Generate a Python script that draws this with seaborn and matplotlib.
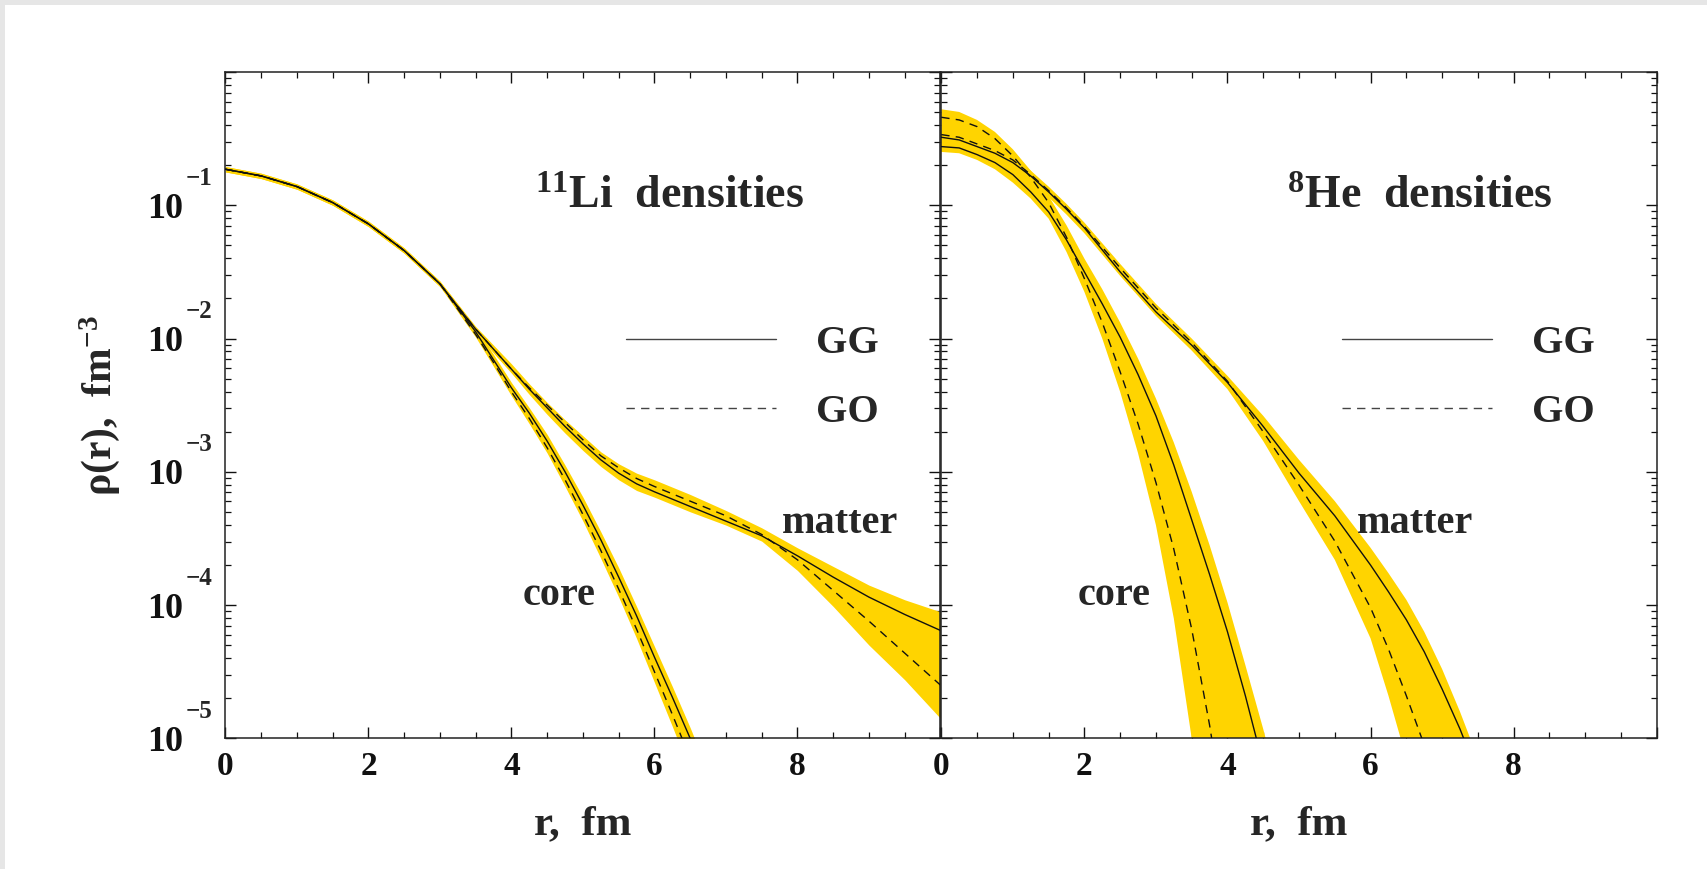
import numpy as np
import pandas as pd
import matplotlib
matplotlib.use("Agg")
import matplotlib.pyplot as plt
import matplotlib.transforms as mtransforms
from matplotlib.ticker import LogLocator, MultipleLocator, FuncFormatter, NullFormatter
from matplotlib.patches import Rectangle
import seaborn as sns

# ---------------- data (log10 of density, fm^-3) ----------------
# 11Li panel
li_matter_r = [0.0, 0.5, 1.0, 1.5, 2.0, 2.5, 3.0, 3.25, 3.5, 3.75, 4.0, 4.25, 4.5, 4.75, 5.0, 5.25, 5.5, 5.75,
               6.0, 6.5, 7.0, 7.5, 8.0, 8.5, 9.0, 9.5, 10.0]
li_matter_gg = [-0.73, -0.78, -0.86, -0.98, -1.14, -1.34, -1.59, -1.76, -1.93, -2.08, -2.23, -2.38, -2.52, -2.66,
                -2.79, -2.91, -3.01, -3.09, -3.15, -3.26, -3.37, -3.48, -3.63, -3.79, -3.94, -4.07, -4.19]
li_matter_go = [-0.73, -0.78, -0.86, -0.98, -1.14, -1.34, -1.59, -1.76, -1.93, -2.08, -2.23, -2.37, -2.50, -2.63,
                -2.76, -2.88, -2.97, -3.05, -3.11, -3.22, -3.33, -3.47, -3.66, -3.89, -4.12, -4.36, -4.60]
li_matter_hi = [-0.71, -0.76, -0.84, -0.96, -1.12, -1.32, -1.57, -1.74, -1.91, -2.05, -2.19, -2.34, -2.48, -2.61,
                -2.73, -2.85, -2.94, -3.01, -3.06, -3.17, -3.29, -3.42, -3.57, -3.71, -3.85, -3.96, -4.05]
li_matter_lo = [-0.75, -0.80, -0.88, -1.00, -1.16, -1.36, -1.61, -1.78, -1.95, -2.11, -2.26, -2.42, -2.57, -2.71,
                -2.84, -2.96, -3.06, -3.14, -3.19, -3.30, -3.40, -3.52, -3.74, -4.01, -4.30, -4.56, -4.85]

li_core_r = [0.0, 0.5, 1.0, 1.5, 2.0, 2.5, 3.0, 3.5, 3.75, 4.0, 4.25, 4.5, 4.75, 5.0, 5.25, 5.5, 5.75, 6.0,
             6.25, 6.5, 6.75, 7.0]
li_core_gg = [-0.73, -0.78, -0.86, -0.98, -1.14, -1.34, -1.59, -1.95, -2.16, -2.37, -2.56, -2.77, -3.00, -3.25,
              -3.51, -3.79, -4.08, -4.39, -4.69, -5.00, -5.32, -5.65]
li_core_go = [-0.73, -0.78, -0.86, -0.98, -1.14, -1.34, -1.59, -1.97, -2.18, -2.40, -2.60, -2.82, -3.06, -3.32,
              -3.59, -3.88, -4.18, -4.50, -4.82, -5.15, -5.50, -5.85]
li_core_hi = [-0.71, -0.76, -0.84, -0.96, -1.12, -1.32, -1.57, -1.92, -2.12, -2.33, -2.52, -2.72, -2.95, -3.19,
              -3.45, -3.72, -4.01, -4.31, -4.61, -4.92, -5.25, -5.60]
li_core_lo = [-0.75, -0.80, -0.88, -1.00, -1.16, -1.36, -1.61, -1.99, -2.21, -2.43, -2.64, -2.86, -3.11, -3.37,
              -3.65, -3.94, -4.25, -4.58, -4.91, -5.25, -5.60, -5.95]

# 8He panel
he_matter_r = [0.0, 0.25, 0.5, 0.75, 1.0, 1.25, 1.5, 1.75, 2.0, 2.5, 3.0, 3.5, 4.0, 4.5, 5.0, 5.5, 6.0, 6.25,
               6.5, 6.75, 7.0, 7.25, 7.5, 8.0]
he_matter_gg = [-0.49, -0.51, -0.56, -0.61, -0.68, -0.78, -0.90, -1.03, -1.17, -1.50, -1.80, -2.05, -2.33, -2.66,
                -3.01, -3.33, -3.70, -3.90, -4.11, -4.35, -4.63, -4.93, -5.27, -6.00]
he_matter_go = [-0.47, -0.49, -0.54, -0.59, -0.66, -0.77, -0.89, -1.02, -1.16, -1.47, -1.77, -2.03, -2.32, -2.70,
                -3.10, -3.52, -4.02, -4.33, -4.68, -5.05, -5.45, -5.85, -6.25, -7.00]
he_matter_hi = [-0.44, -0.46, -0.51, -0.57, -0.64, -0.74, -0.86, -0.99, -1.13, -1.44, -1.74, -2.00, -2.28, -2.58,
                -2.91, -3.22, -3.57, -3.76, -3.96, -4.20, -4.48, -4.80, -5.15, -5.90]
he_matter_lo = [-0.60, -0.60, -0.62, -0.66, -0.72, -0.82, -0.94, -1.07, -1.21, -1.53, -1.83, -2.09, -2.38, -2.77,
                -3.22, -3.66, -4.25, -4.68, -5.15, -5.60, -6.05, -6.50, -6.95, -7.60]

he_core_r = [0.0, 0.25, 0.5, 0.75, 1.0, 1.25, 1.5, 1.75, 2.0, 2.25, 2.5, 2.75, 3.0, 3.25, 3.5, 3.75, 4.0, 4.25,
             4.5, 4.75, 5.0]
he_core_gg = [-0.56, -0.57, -0.62, -0.68, -0.77, -0.90, -1.05, -1.26, -1.50, -1.74, -1.99, -2.27, -2.58, -2.95,
              -3.36, -3.77, -4.20, -4.68, -5.20, -5.72, -6.30]
he_core_go = [-0.34, -0.36, -0.41, -0.50, -0.63, -0.79, -0.98, -1.24, -1.55, -1.88, -2.25, -2.64, -3.08, -3.58,
              -4.18, -4.90, -5.75, -6.50, -7.20, -7.80, -8.40]
he_core_hi = [-0.28, -0.30, -0.36, -0.45, -0.58, -0.74, -0.93, -1.15, -1.40, -1.63, -1.88, -2.15, -2.45, -2.78,
              -3.15, -3.55, -3.98, -4.45, -4.93, -5.45, -6.00]
he_core_lo = [-0.60, -0.61, -0.66, -0.73, -0.83, -0.95, -1.10, -1.35, -1.65, -2.00, -2.40, -2.86, -3.40, -4.10,
              -5.00, -5.90, -6.80, -7.50, -8.00, -8.50, -9.00]

x_ticks = [0, 2, 4, 6, 8, 10]
x_tick_labels = ["0", "2", "4", "6", "8", ""]
y_label_exponents = [-1, -2, -3, -4, -5]

panels = [
    dict(title=r"$^{11}$Li  densities", title_pos=(4.33, -1.02),
         matter=(li_matter_r, li_matter_gg, li_matter_go, li_matter_lo, li_matter_hi),
         core=(li_core_r, li_core_gg, li_core_go, li_core_lo, li_core_hi),
         matter_pos=(7.78, -3.46), core_pos=(4.15, -4.0)),
    dict(title=r"$^{8}$He  densities", title_pos=(4.83, -1.02),
         matter=(he_matter_r, he_matter_gg, he_matter_go, he_matter_lo, he_matter_hi),
         core=(he_core_r, he_core_gg, he_core_go, he_core_lo, he_core_hi),
         matter_pos=(5.81, -3.46), core_pos=(1.91, -4.0)),
]

# ---------------- style ----------------
sns.set_theme(style="ticks")
plt.rcParams["font.family"] = ["Liberation Serif", "DejaVu Serif"]
plt.rcParams["font.weight"] = "bold"
plt.rcParams["mathtext.fontset"] = "custom"
plt.rcParams["mathtext.rm"] = "Liberation Serif:bold"
plt.rcParams["mathtext.it"] = "Liberation Serif:bold"
plt.rcParams["mathtext.bf"] = "Liberation Serif:bold"
plt.rcParams["mathtext.default"] = "rm"
plt.rcParams["axes.unicode_minus"] = True

BAND = "#FFD400"
LINE = "#111111"
DASH = (0, (6, 4.5))

fig = plt.figure(figsize=(17.08, 8.69), dpi=100, facecolor="white")
fig.add_artist(Rectangle((0, 0), 5 / 1708, 1, transform=fig.transFigure, color="#e6e6e6", lw=0, zorder=-5))
fig.add_artist(Rectangle((0, 1 - 5 / 869), 1, 5 / 869, transform=fig.transFigure, color="#e6e6e6", lw=0, zorder=-5))

ax1 = fig.add_axes([0.1320, 0.1503, 0.4186, 0.7669])
ax2 = fig.add_axes([0.5511, 0.1503, 0.4189, 0.7669])
axes = [ax1, ax2]

def ylab(v, pos):
    e = int(round(np.log10(v)))
    return "10" if e in y_label_exponents else ""

for i, (ax, p) in enumerate(zip(axes, panels)):
    ax.set_facecolor("white")
    for kind in ("core", "matter"):
        r, gg, go, lo, hi = p[kind]
        df = pd.DataFrame({"r": r, "gg": 10.0 ** np.array(gg), "go": 10.0 ** np.array(go),
                           "lo": 10.0 ** np.array(lo), "hi": 10.0 ** np.array(hi)})
        ax.fill_between(df["r"], df["lo"], df["hi"], color=BAND, lw=0, zorder=1)
        sns.lineplot(data=df, x="r", y="gg", ax=ax, color=LINE, lw=1.0, zorder=3,
                     label="GG" if kind == "matter" else None, legend=False)
        sns.lineplot(data=df, x="r", y="go", ax=ax, color=LINE, lw=1.0, linestyle=DASH, zorder=3,
                     label="GO" if kind == "matter" else None, legend=False)
    ax.set_yscale("log")
    ax.set_xlim(0, 10)
    ax.set_ylim(1e-5, 1)

    ax.xaxis.set_major_locator(matplotlib.ticker.FixedLocator(x_ticks))
    ax.xaxis.set_major_formatter(matplotlib.ticker.FixedFormatter(x_tick_labels))
    ax.xaxis.set_minor_locator(MultipleLocator(0.5))
    ax.yaxis.set_major_locator(LogLocator(base=10, numticks=12))
    ax.yaxis.set_minor_locator(LogLocator(base=10, subs=np.arange(2, 10), numticks=12))
    ax.yaxis.set_minor_formatter(NullFormatter())
    if i == 0:
        ax.yaxis.set_major_formatter(FuncFormatter(ylab))
    else:
        ax.yaxis.set_major_formatter(NullFormatter())

    ax.tick_params(which="both", direction="in", top=True, right=True, colors="#111111")
    ax.tick_params(which="major", length=8, width=1.0)
    ax.tick_params(which="minor", length=4, width=0.9)
    ax.tick_params(axis="x", which="major", labelsize=24, pad=9)
    ax.tick_params(axis="y", which="major", labelsize=26, pad=30.5)
    for s in ax.spines.values():
        s.set_visible(True)
        s.set_color("#222222")
        s.set_linewidth(1.1)

    ax.set_xlabel("r,  fm", fontsize=31, fontweight="bold", labelpad=17)
    ax.set_ylabel("")

    tx, ty = p["title_pos"]
    ax.text(tx, 10 ** ty, p["title"], fontsize=33, fontweight="bold", ha="left", va="baseline", zorder=5)
    mx, my = p["matter_pos"]
    ax.text(mx, 10 ** my, "matter", fontsize=29, fontweight="bold", ha="left", va="baseline", zorder=5)
    cx, cy = p["core_pos"]
    ax.text(cx, 10 ** cy, "core", fontsize=29, fontweight="bold", ha="left", va="baseline", zorder=5)

    h, l = ax.get_legend_handles_labels()
    leg = ax.legend(h, l, loc="upper left", bbox_to_anchor=(0.56, 0.621), frameon=False,
                    handlelength=3.73, handletextpad=1.0, labelspacing=0.8,
                    borderpad=0, borderaxespad=0, prop={"weight": "bold", "size": 29})
    for ln in leg.get_lines():
        ln.set_color("#444444")

# exponents of the y tick labels (raised, to the right of "10")
exp_tr = mtransforms.blended_transform_factory(ax1.transAxes, ax1.transData) + \
    mtransforms.ScaledTranslation(-0.40, 0.27, fig.dpi_scale_trans)
for e in y_label_exponents:
    ax1.text(0, 10.0 ** e, "\u2212%d" % abs(e), transform=exp_tr, fontsize=18, fontweight="bold",
             ha="left", va="center", clip_on=False)

ax1.set_ylabel("ρ(r),  fm$^{-3}$", fontsize=30, fontweight="bold", labelpad=18)

fig.savefig("out.png", dpi=100, facecolor="white")
